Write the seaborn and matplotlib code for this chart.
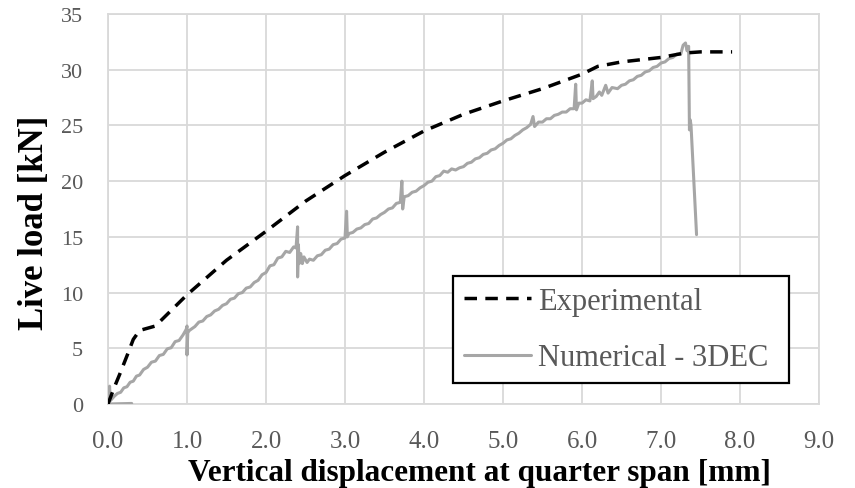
import matplotlib
matplotlib.use("Agg")
import matplotlib.pyplot as plt
import seaborn as sns
import pandas as pd

# Experimental curve
exp_x = [0.00, 0.08, 0.15, 0.25, 0.32, 0.40, 0.50, 0.60, 0.80, 1.00, 1.50, 2.00, 2.50,
         3.00, 3.50, 4.00, 4.50, 5.00, 5.50, 6.00, 6.20, 6.50, 7.00, 7.30, 7.50, 7.90]
exp_y = [0.0, 1.5, 2.7, 4.5, 5.8, 6.6, 6.8, 7.0, 8.4, 9.8, 12.9, 15.5, 18.2,
         20.5, 22.6, 24.5, 26.0, 27.2, 28.3, 29.6, 30.3, 30.7, 31.1, 31.5, 31.6, 31.6]

# Numerical (3DEC) curve
num_x = [0.30, 0.00, 0.02, 0.03, 0.08, 0.12, 0.16, 0.20, 0.24, 0.28, 0.32, 0.36, 0.40,
         0.45, 0.50, 0.55, 0.60, 0.65, 0.70, 0.75, 0.80, 0.85, 0.90, 0.95, 0.99, 1.00,
         1.00, 1.01, 1.03, 1.06, 1.10, 1.15, 1.20, 1.25, 1.30, 1.35, 1.40, 1.45, 1.50,
         1.55, 1.60, 1.65, 1.70, 1.75, 1.80, 1.85, 1.90, 1.95, 2.00, 2.05, 2.10, 2.15,
         2.20, 2.25, 2.30, 2.35, 2.38, 2.40, 2.40, 2.41, 2.42, 2.44, 2.46, 2.48, 2.52,
         2.55, 2.60, 2.65, 2.70, 2.75, 2.80, 2.85, 2.90, 2.95, 3.00, 3.02, 3.03, 3.05,
         3.10, 3.15, 3.20, 3.25, 3.30, 3.35, 3.40, 3.45, 3.50, 3.55, 3.60, 3.65, 3.70,
         3.72, 3.73, 3.75, 3.80, 3.85, 3.90, 3.95, 4.00, 4.05, 4.10, 4.15, 4.20, 4.25,
         4.30, 4.35, 4.40, 4.45, 4.50, 4.55, 4.60, 4.65, 4.70, 4.75, 4.80, 4.85, 4.90,
         4.95, 5.00, 5.05, 5.10, 5.15, 5.20, 5.25, 5.30, 5.35, 5.38, 5.40, 5.45, 5.50,
         5.55, 5.60, 5.65, 5.70, 5.75, 5.80, 5.85, 5.90, 5.92, 5.93, 5.96, 6.00, 6.05,
         6.10, 6.13, 6.14, 6.18, 6.22, 6.25, 6.30, 6.33, 6.38, 6.45, 6.50, 6.55, 6.60,
         6.65, 6.70, 6.75, 6.80, 6.85, 6.90, 6.95, 7.00, 7.05, 7.10, 7.15, 7.20, 7.25,
         7.28, 7.31, 7.33, 7.35, 7.36, 7.37, 7.38, 7.45]
num_y = [0.05, 0.00, 1.60, 0.30, 0.70, 0.95, 1.05, 1.45, 1.55, 1.95, 2.05, 2.50, 2.60,
         3.10, 3.30, 3.75, 3.85, 4.35, 4.45, 4.95, 5.05, 5.60, 5.70, 6.20, 6.70, 7.00,
         4.40, 6.40, 6.60, 6.75, 6.95, 7.35, 7.45, 7.85, 8.00, 8.35, 8.50, 8.85, 9.00,
         9.40, 9.50, 9.90, 10.00, 10.40, 10.50, 10.90, 11.10, 11.60, 11.80, 12.40, 12.50, 13.10,
         13.20, 13.70, 13.60, 14.10, 14.00, 15.90, 11.40, 14.30, 12.60, 13.50, 12.60, 13.20, 12.70,
         13.00, 12.90, 13.30, 13.40, 13.80, 13.90, 14.30, 14.40, 14.80, 14.90, 17.30, 15.00, 15.30,
         15.40, 15.70, 15.80, 16.10, 16.20, 16.60, 16.70, 17.00, 17.20, 17.50, 17.60, 18.00, 18.10,
         20.00, 17.50, 18.60, 18.70, 19.00, 19.10, 19.40, 19.60, 19.90, 20.00, 20.40, 20.50, 20.90,
         20.80, 21.10, 21.00, 21.20, 21.30, 21.60, 21.70, 22.00, 22.10, 22.40, 22.50, 22.80, 22.90,
         23.20, 23.40, 23.70, 23.80, 24.10, 24.30, 24.60, 24.80, 25.10, 25.80, 24.90, 25.30, 25.30,
         25.60, 25.60, 25.90, 26.00, 26.20, 26.20, 26.50, 26.50, 28.70, 26.40, 27.00, 27.00, 27.30,
         27.20, 29.00, 27.40, 27.60, 28.00, 27.70, 28.60, 27.90, 28.40, 28.30, 28.60, 28.70, 29.00,
         29.10, 29.40, 29.50, 29.80, 29.90, 30.20, 30.30, 30.60, 30.70, 31.00, 31.10, 31.40, 31.40,
         32.20, 32.40, 31.70, 32.10, 24.60, 25.50, 25.00, 15.20]

x_ticks = [0.0, 1.0, 2.0, 3.0, 4.0, 5.0, 6.0, 7.0, 8.0, 9.0]
y_ticks = [0, 5, 10, 15, 20, 25, 30, 35]
x_label = "Vertical displacement at quarter span [mm]"
y_label = "Live load [kN]"
exp_label = "Experimental"
num_label = "Numerical - 3DEC"

sns.set_theme(style="white")
plt.rcParams["font.family"] = ["Liberation Serif", "DejaVu Serif"]

fig = plt.figure(figsize=(8.55, 4.89), dpi=100)
ax = fig.add_axes([108 / 855, 84 / 489, 711 / 855, 390 / 489])

df_exp = pd.DataFrame({"x": exp_x, "y": exp_y})
df_num = pd.DataFrame({"x": num_x, "y": num_y})

sns.lineplot(data=df_num, x="x", y="y", ax=ax, sort=False, estimator=None,
             color="#a6a6a6", linewidth=2.2, label=num_label, zorder=3)
sns.lineplot(data=df_exp, x="x", y="y", ax=ax, sort=False, estimator=None,
             color="black", linewidth=2.5, label=exp_label, zorder=4)
ax.get_lines()[1].set_dashes((3.6, 2.4))

ax.set_xlim(0, 9)
ax.set_ylim(0, 35)
ax.set_xticks(x_ticks)
ax.set_xticklabels([f"{v:.1f}" for v in x_ticks])
ax.set_yticks(y_ticks)
ax.set_yticklabels([str(v) for v in y_ticks])
ax.grid(True, color="#d9d9d9", linewidth=1.3)
ax.set_axisbelow(True)
for s in ax.spines.values():
    s.set_color("#d9d9d9")
    s.set_linewidth(1.3)

ax.tick_params(axis="x", length=0, pad=19, labelsize=18, labelcolor="#595959")
ax.tick_params(axis="y", length=0, pad=18, labelsize=16, labelcolor="#595959")

ax.set_xlabel(x_label, fontsize=22.5, fontweight="bold", color="black")
ax.set_ylabel(y_label, fontsize=25, fontweight="bold", color="black")
ax.xaxis.set_label_coords(0.523, -0.138)
ax.yaxis.set_label_coords(-0.080, 0.467)

handles, labels = ax.get_legend_handles_labels()
order = [labels.index(exp_label), labels.index(num_label)]
leg = ax.legend([handles[i] for i in order], [labels[i] for i in order],
                loc="lower left", bbox_to_anchor=(0.485, 0.054, 0.473, 0.274),
                mode="expand", fontsize=22, frameon=True, fancybox=False,
                framealpha=1, edgecolor="black", handlelength=2.2,
                handletextpad=0.25, labelspacing=0.9, borderpad=0.35,
                borderaxespad=0)
leg.get_frame().set_linewidth(1.6)
for t in leg.get_texts():
    t.set_color("#595959")

fig.savefig("out.png", dpi=100)
